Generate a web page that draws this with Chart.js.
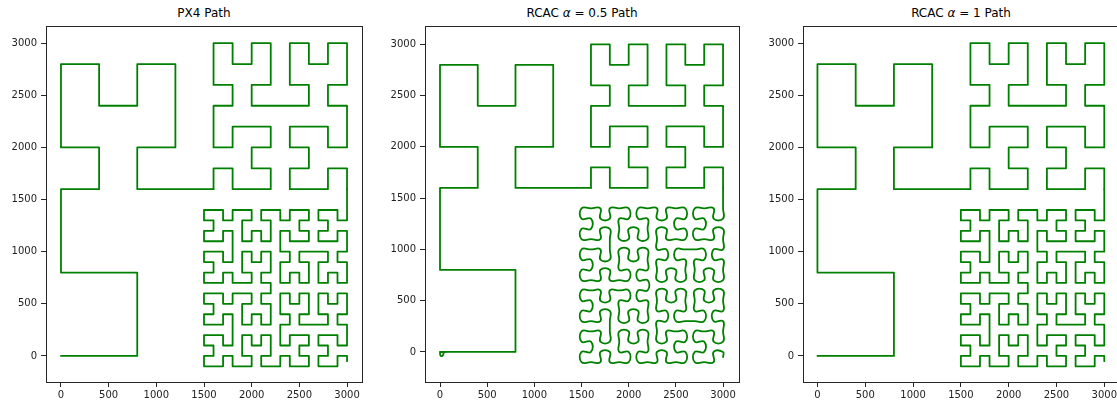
<!DOCTYPE html>
<html>
<head>
<meta charset="utf-8">
<script src="https://cdn.jsdelivr.net/npm/chart.js@4"></script>
<style>
body { margin:0; width:1117px; height:403px; overflow:hidden; background:#fff; position:relative; font-family:"DejaVu Sans", sans-serif; }
.panel { position:absolute; top:0; height:403px; }
.title { position:absolute; top:6px; font-size:12px; line-height:14px; transform:translateX(-50%); white-space:nowrap; color:#000; }
.title i { font-family:"DejaVu Sans", sans-serif; font-style:italic; }
</style>
</head>
<body>
<div class="title" style="left:204px">PX4 Path</div>
<div class="title" style="left:582px">RCAC <i>α</i> = 0.5 Path</div>
<div class="title" style="left:961px">RCAC <i>α</i> = 1 Path</div>
<div class="panel" style="left:0px;width:372px"><canvas id="px4" width="372" height="403"></canvas></div>
<div class="panel" style="left:379px;width:371px"><canvas id="rcacHalf" width="371" height="403"></canvas></div>
<div class="panel" style="left:757px;width:372px"><canvas id="rcacOne" width="372" height="403"></canvas></div>
<script>
// waypoints: coarse part, 200-step block (top right), 100-step block (bottom right)
const coarsePath = [
    [0,0],[800,0],[800,800],[0,800],[0,1600],[400,1600],[400,2000],[0,2000],[0,2800],
    [400,2800],[400,2400],[800,2400],[800,2800],[1200,2800],[1200,2000],[800,2000],[800,1600],[1600,1600]
]
const midPath = [
    [1600,1600],[1600,1800],[1800,1800],[1800,1600],[2200,1600],[2200,1800],[2000,1800],[2000,2000],
    [2200,2000],[2200,2200],[1800,2200],[1800,2000],[1600,2000],[1600,2400],[1800,2400],[1800,2600],
    [1600,2600],[1600,3000],[1800,3000],[1800,2800],[2000,2800],[2000,3000],[2200,3000],[2200,2600],
    [2000,2600],[2000,2400],[2600,2400],[2600,2600],[2400,2600],[2400,3000],[2600,3000],[2600,2800],
    [2800,2800],[2800,3000],[3000,3000],[3000,2600],[2800,2600],[2800,2400],[3000,2400],[3000,2000],
    [2800,2000],[2800,2200],[2400,2200],[2400,2000],[2600,2000],[2600,1800],[2400,1800],[2400,1600],
    [2800,1600],[2800,1800],[3000,1800],[3000,1600]
]
const finePath = [
    [3000,1600],
    [3000,1400],[3000,1300],[2900,1300],[2900,1400],[2800,1400],[2700,1400],[2700,1300],[2800,1300],
    [2800,1200],[2700,1200],[2700,1100],[2800,1100],[2900,1100],[2900,1200],[3000,1200],[3000,1100],
    [3000,1000],[2900,1000],[2900,900],[3000,900],[3000,800],[3000,700],[2900,700],[2900,800],
    [2800,800],[2800,700],[2700,700],[2700,800],[2700,900],[2800,900],[2800,1000],[2700,1000],
    [2600,1000],[2500,1000],[2500,900],[2600,900],[2600,800],[2600,700],[2500,700],[2500,800],
    [2400,800],[2400,700],[2300,700],[2300,800],[2300,900],[2400,900],[2400,1000],[2300,1000],
    [2300,1100],[2300,1200],[2400,1200],[2400,1100],[2500,1100],[2600,1100],[2600,1200],[2500,1200],
    [2500,1300],[2600,1300],[2600,1400],[2500,1400],[2400,1400],[2400,1300],[2300,1300],[2300,1400],
    [2200,1400],[2100,1400],[2100,1300],[2200,1300],[2200,1200],[2200,1100],[2100,1100],[2100,1200],
    [2000,1200],[2000,1100],[1900,1100],[1900,1200],[1900,1300],[2000,1300],[2000,1400],[1900,1400],
    [1800,1400],[1800,1300],[1700,1300],[1700,1400],[1600,1400],[1500,1400],[1500,1300],[1600,1300],
    [1600,1200],[1500,1200],[1500,1100],[1600,1100],[1700,1100],[1700,1200],[1800,1200],[1800,1100],
    [1800,1000],[1800,900],[1700,900],[1700,1000],[1600,1000],[1500,1000],[1500,900],[1600,900],
    [1600,800],[1500,800],[1500,700],[1600,700],[1700,700],[1700,800],[1800,800],[1800,700],
    [1900,700],[2000,700],[2000,800],[1900,800],[1900,900],[1900,1000],[2000,1000],[2000,900],
    [2100,900],[2100,1000],[2200,1000],[2200,900],[2200,800],[2100,800],[2100,700],[2200,700],
    [2200,600],[2100,600],[2100,500],[2200,500],[2200,400],[2200,300],[2100,300],[2100,400],
    [2000,400],[2000,300],[1900,300],[1900,400],[1900,500],[2000,500],[2000,600],[1900,600],
    [1800,600],[1800,500],[1700,500],[1700,600],[1600,600],[1500,600],[1500,500],[1600,500],
    [1600,400],[1500,400],[1500,300],[1600,300],[1700,300],[1700,400],[1800,400],[1800,300],
    [1800,200],[1800,100],[1700,100],[1700,200],[1600,200],[1500,200],[1500,100],[1600,100],
    [1600,0],[1500,0],[1500,-100],[1600,-100],[1700,-100],[1700,0],[1800,0],[1800,-100],
    [1900,-100],[2000,-100],[2000,0],[1900,0],[1900,100],[1900,200],[2000,200],[2000,100],
    [2100,100],[2100,200],[2200,200],[2200,100],[2200,0],[2100,0],[2100,-100],[2200,-100],
    [2300,-100],[2300,0],[2400,0],[2400,-100],[2500,-100],[2600,-100],[2600,0],[2500,0],
    [2500,100],[2600,100],[2600,200],[2500,200],[2400,200],[2400,100],[2300,100],[2300,200],
    [2300,300],[2400,300],[2400,400],[2300,400],[2300,500],[2300,600],[2400,600],[2400,500],
    [2500,500],[2500,600],[2600,600],[2600,500],[2600,400],[2500,400],[2500,300],[2600,300],
    [2700,300],[2800,300],[2800,400],[2700,400],[2700,500],[2700,600],[2800,600],[2800,500],
    [2900,500],[2900,600],[3000,600],[3000,500],[3000,400],[2900,400],[2900,300],[3000,300],
    [3000,200],[3000,100],[2900,100],[2900,200],[2800,200],[2700,200],[2700,100],[2800,100],
    [2800,0],[2700,0],[2700,-100],[2800,-100],[2900,-100],[2900,0],[3000,0],[3000,-50]
]
// little loop at the start of the alpha = 0.5 run
const rcacHalfStart = [[40,0],[30,-35],[10,-40],[0,-15],[10,0],[60,0]]

const xTicks = [0, 500, 1000, 1500, 2000, 2500, 3000]
const yTicks = [0, 500, 1000, 1500, 2000, 2500, 3000]

const GREEN = "#008000"
const AXIS = "#262626"

function toXY(points) {
    return points.map(p => ({ x: p[0], y: p[1] }))
}

function pathSet(points, tension) {
    return {
        data: toXY(points),
        showLine: true,
        borderColor: GREEN,
        borderWidth: 1.8,
        pointRadius: 0,
        tension: tension,
        borderJoinStyle: "round",
        borderCapStyle: "round",
        fill: false
    }
}

const frame = {
    id: "frame",
    afterDraw(chart) {
        const { ctx, chartArea: a } = chart
        ctx.save()
        ctx.strokeStyle = AXIS
        ctx.lineWidth = 1
        ctx.strokeRect(Math.round(a.left) + 0.5, Math.round(a.top) + 0.5, Math.round(a.right - a.left), Math.round(a.bottom - a.top))
        ctx.restore()
    }
}

function makeChart(id, datasets, xr, yr, padRight) {
    const tickFont = { family: "DejaVu Sans", size: 10 }
    new Chart(id, {
        type: "scatter",
        data: { datasets: datasets },
        options: {
            responsive: false,
            animation: false,
            layout: { padding: { top: 26, right: padRight, left: 0, bottom: 0 } },
            plugins: { legend: { display: false }, tooltip: { enabled: false } },
            scales: {
                x: {
                    type: "linear", min: xr[0], max: xr[1],
                    afterBuildTicks: s => { s.ticks = xTicks.map(v => ({ value: v })) },
                    afterFit: s => { s.height = 21 },
                    grid: { drawOnChartArea: false, tickLength: 5, color: AXIS },
                    border: { color: AXIS },
                    ticks: { font: tickFont, color: "#222", padding: 2, maxRotation: 0, autoSkip: false, callback: v => String(v) }
                },
                y: {
                    type: "linear", min: yr[0], max: yr[1],
                    afterBuildTicks: s => { s.ticks = yTicks.map(v => ({ value: v })) },
                    afterFit: s => { s.width = 46 },
                    grid: { drawOnChartArea: false, tickLength: 5, color: AXIS },
                    border: { color: AXIS },
                    ticks: { font: tickFont, color: "#222", padding: 4, autoSkip: false, callback: v => String(v) }
                }
            }
        },
        plugins: [frame]
    })
}

makeChart("px4", [pathSet(coarsePath, 0), pathSet(midPath, 0), pathSet(finePath, 0)], [-157, 3157], [-250, 3165], 10)
makeChart("rcacHalf", [pathSet(rcacHalfStart, 0.4), pathSet(coarsePath, 0), pathSet(midPath, 0), pathSet(finePath, 0.5)], [-159, 3169], [-293, 3179], 11)
makeChart("rcacOne", [pathSet(coarsePath, 0), pathSet(midPath, 0), pathSet(finePath, 0)], [-151, 3154], [-250, 3165], 10)
</script>
</body>
</html>
